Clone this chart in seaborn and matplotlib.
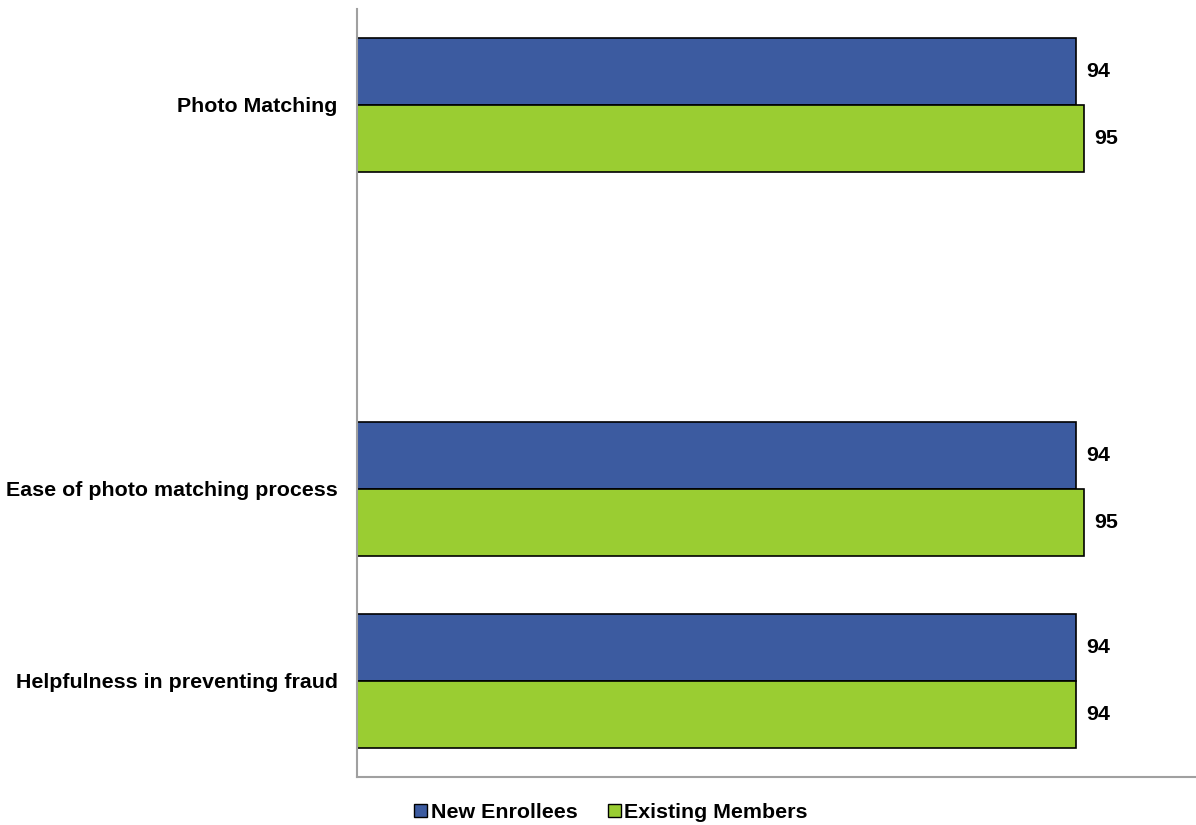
import matplotlib
matplotlib.use("Agg")
import matplotlib.pyplot as plt
import seaborn as sns
import pandas as pd

# Survey results (percent satisfied)
categories = ["Photo Matching", "Ease of photo matching process", "Helpfulness in preventing fraud"]
new_enrollees = [94, 94, 94]
existing_members = [95, 95, 94]
series_names = ["New Enrollees", "Existing Members"]

# a blank slot separates the first item from the rest
order = [categories[0], " ", categories[1], categories[2]]

df = pd.DataFrame({
    "item": categories * 2,
    "value": new_enrollees + existing_members,
    "group": [series_names[0]] * 3 + [series_names[1]] * 3,
})

sns.set_theme(style="white")
plt.rcParams["font.family"] = ["Liberation Sans", "DejaVu Sans"]
plt.rcParams["text.color"] = "black"

FS = 15.4

fig = plt.figure(figsize=(11.96, 8.25), dpi=100)
ax = fig.add_axes([0.2985, 0.0582, 0.7015, 0.9309])

palette = {"New Enrollees": "#3C5BA0", "Existing Members": "#9ACD32"}
sns.barplot(data=df, y="item", x="value", hue="group", order=order,
            hue_order=series_names, palette=palette, orient="h",
            width=0.7, edgecolor="black", linewidth=1.2, saturation=1,
            errorbar=None, ax=ax)

for container in ax.containers:
    ax.bar_label(container, fmt="%d", padding=7.5, fontsize=FS,
                 fontweight="bold", color="black")

ax.set_xlim(0, 109.7)
ax.set_xlabel("")
ax.set_ylabel("")
ax.set_xticks([])
ax.tick_params(axis="y", length=0, pad=14)
for lbl in ax.get_yticklabels():
    lbl.set_fontweight("bold")
    lbl.set_fontsize(FS)
    lbl.set_color("black")

for side in ["top", "right"]:
    ax.spines[side].set_visible(False)
for side in ["left", "bottom"]:
    ax.spines[side].set_color("#A0A0A0")
    ax.spines[side].set_linewidth(1.5)

ax.legend_.remove()
handles = [plt.Rectangle((0, 0), 1, 1, facecolor=palette[n], edgecolor="black", linewidth=1.0)
           for n in series_names]
leg = fig.legend(handles, series_names, loc="center", bbox_to_anchor=(0.511, 0.015),
                 ncol=2, frameon=False, handlelength=0.6, handleheight=0.6,
                 handletextpad=0.15, columnspacing=1.45,
                 prop={"weight": "bold", "size": FS})
for t in leg.get_texts():
    t.set_color("black")

fig.savefig("out.png", dpi=100)
